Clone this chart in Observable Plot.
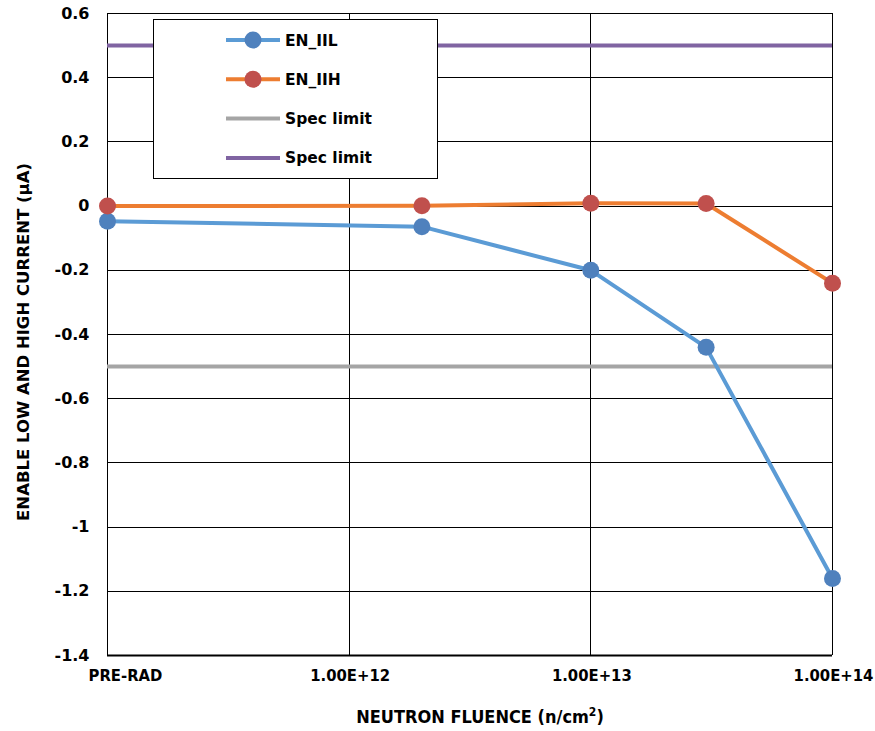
<!DOCTYPE html>
<html><head><meta charset="utf-8">
<script src="https://cdn.jsdelivr.net/npm/d3@7"></script>
<script src="https://cdn.jsdelivr.net/npm/@observablehq/plot@0.6"></script>
<style>body{margin:0;background:#fff}</style>
</head><body><div id="chart"></div>
<script>
const fluence = [1e11, 2e12, 1e13, 3e13, 1e14];
const enIIL = [-0.047, -0.064, -0.2, -0.44, -1.16];
const enIIH = [0.0, 0.001, 0.009, 0.008, -0.24];
const specLow = -0.5;
const specHigh = 0.5;
const xTicks = [1e11, 1e12, 1e13, 1e14];
const xTickLabels = ["PRE-RAD", "1.00E+12", "1.00E+13", "1.00E+14"];
const yTicks = [0.6, 0.4, 0.2, 0, -0.2, -0.4, -0.6, -0.8, -1, -1.2, -1.4];
const legendNames = ["EN_IIL", "EN_IIH", "Spec limit", "Spec limit"];

const blueLine = "#5B9BD5", blueDot = "#4F81BD";
const orangeLine = "#ED7D31", redDot = "#C0504D";
const gray = "#A5A5A5", purple = "#8064A2";

const L = fluence.map((f, i) => ({f, v: enIIL[i]}));
const H = fluence.map((f, i) => ({f, v: enIIH[i]}));
const wide = "'DejaVu Sans', Verdana, sans-serif";
const narrow = "'Liberation Sans Narrow', 'Arial Narrow', 'DejaVu Sans Condensed', sans-serif";

const chart = Plot.plot({
  width: 875, height: 731,
  marginLeft: 107, marginTop: 13, marginRight: 43, marginBottom: 76,
  style: {fontFamily: wide, background: "#fff"},
  x: {type: "log", domain: [1e11, 1e14], axis: null},
  y: {domain: [-1.4, 0.6], axis: null},
  marks: [
    Plot.ruleY(yTicks, {stroke: "#000", strokeWidth: 1, shapeRendering: "crispEdges"}),
    Plot.ruleX(xTicks, {stroke: "#000", strokeWidth: 1, shapeRendering: "crispEdges"}),
    Plot.ruleY([-1.4], {stroke: "#000", strokeWidth: 2}),
    Plot.ruleY([specLow], {stroke: gray, strokeWidth: 4}),
    Plot.ruleY([specHigh], {stroke: purple, strokeWidth: 4}),
    Plot.line(L, {x: "f", y: "v", stroke: blueLine, strokeWidth: 4}),
    Plot.line(H, {x: "f", y: "v", stroke: orangeLine, strokeWidth: 4}),
    Plot.dot(L, {x: "f", y: "v", r: 8.5, fill: blueDot}),
    Plot.dot(H, {x: "f", y: "v", r: 8.5, fill: redDot}),
    Plot.text(yTicks, {x: 1e11, y: d => d, text: d => String(d), textAnchor: "end", dx: -18, fontSize: 16, fontWeight: "bold", fontFamily: wide, fill: "#000"}),
    Plot.text([xTicks[0]], {x: d => d, y: -1.4, text: [xTickLabels[0]], dx: 18, dy: 20, fontSize: 16.5, fontWeight: "bold", fontFamily: narrow, fill: "#000"}),
    Plot.text(xTicks.slice(1), {x: d => d, y: -1.4, text: xTickLabels.slice(1), dx: 1, dy: 20, fontSize: 16.5, fontWeight: "bold", fontFamily: narrow, fill: "#000"})
  ]
});

const svg = d3.select(chart);
// axis titles
svg.append("text").attr("x", 480).attr("y", 723).attr("text-anchor", "middle")
  .attr("font-family", narrow).attr("font-weight", "bold").attr("font-size", 18)
  .html('NEUTRON FLUENCE (n/cm<tspan dy="-7" font-size="12">2</tspan><tspan dy="7">)</tspan>');
svg.append("text").attr("transform", "translate(29,342) rotate(-90)").attr("text-anchor", "middle")
  .attr("font-family", wide).attr("font-weight", "bold").attr("font-size", 16.5)
  .text("ENABLE LOW AND HIGH CURRENT (μA)");

// legend
const lg = svg.append("g");
lg.append("rect").attr("x", 153.5).attr("y", 19.5).attr("width", 284).attr("height", 159)
  .attr("fill", "#fff").attr("stroke", "#000").attr("stroke-width", 1);
const styles = [
  {stroke: blueLine, dot: blueDot},
  {stroke: orangeLine, dot: redDot},
  {stroke: gray, dot: null},
  {stroke: purple, dot: null}
];
legendNames.forEach((name, i) => {
  const y = 40 + i * 39.3;
  lg.append("line").attr("x1", 226).attr("x2", 280).attr("y1", y).attr("y2", y)
    .attr("stroke", styles[i].stroke).attr("stroke-width", 4);
  if (styles[i].dot) lg.append("circle").attr("cx", 253).attr("cy", y).attr("r", 8.5).attr("fill", styles[i].dot);
  lg.append("text").attr("x", 285).attr("y", y).attr("dy", "0.36em").attr("text-anchor", "start")
    .attr("font-family", wide).attr("font-weight", "bold").attr("font-size", 15.5).text(name);
});

document.getElementById("chart").appendChild(chart);
</script></body></html>
